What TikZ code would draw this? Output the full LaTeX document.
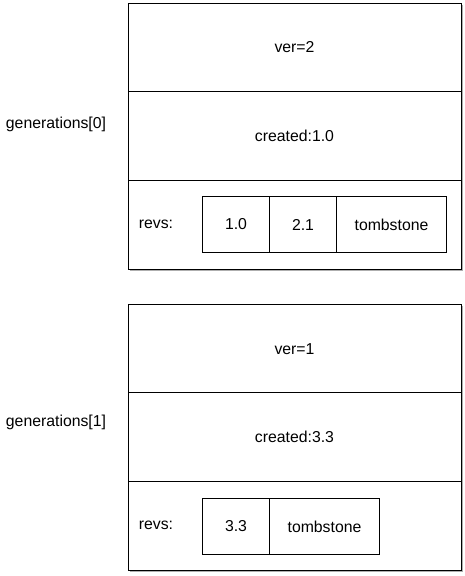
\documentclass[tikz,border=0pt]{standalone}
\usepackage{fontspec}
\setmainfont{Liberation Sans}
\usetikzlibrary{shadows}
\begin{document}
\begin{tikzpicture}[x=1pt,y=-1pt,
  line width=1pt,
  lbl/.style={font=\fontsize{15.8}{18}\selectfont, inner sep=0pt},
  outer/.style={draw, fill=white, drop shadow={shadow xshift=1.2pt, shadow yshift=-1.5pt, opacity=0.45, fill=black!70}},
  cell/.style={draw, minimum height=56pt, inner sep=0pt, font=\fontsize{15.8}{18}\selectfont}]
\useasboundingbox (0,0) rectangle (465,576);
% generation 0
\node[outer, minimum width=333pt, minimum height=266pt, anchor=north west, inner sep=0pt] (g0) at (128,3) {};
\draw (128,91.7) -- (461,91.7);
\draw (128,180.3) -- (461,180.3);
\node[lbl] (v0) at (294.5,47) {ver=2};
\node[lbl] (c0) at (294.5,136) {created:1.0};
\node[lbl] (r0) at (156,224) {revs:};
\node[cell, minimum width=67pt, anchor=north west] (a0) at (202,196) {1.0};
\node[cell, minimum width=67pt, anchor=north west] (a1) at (269,196) {2.1};
\node[cell, minimum width=110pt, anchor=north west] (a2) at (336,196) {tombstone};
\node[lbl] (n0) at (56,124) {generations[0]};
% generation 1
\node[outer, minimum width=333pt, minimum height=266pt, anchor=north west, inner sep=0pt] (g1) at (128,304) {};
\draw (128,392.7) -- (461,392.7);
\draw (128,481.3) -- (461,481.3);
\node[lbl] (v1) at (294.5,349) {ver=1};
\node[lbl] (c1) at (294.5,437) {created:3.3};
\node[lbl] (r1) at (156,525) {revs:};
\node[cell, minimum width=67pt, anchor=north west] (b0) at (202,498) {3.3};
\node[cell, minimum width=110pt, anchor=north west] (b1) at (269,498) {tombstone};
\node[lbl] (n1) at (56,422) {generations[1]};
\end{tikzpicture}
\end{document}
